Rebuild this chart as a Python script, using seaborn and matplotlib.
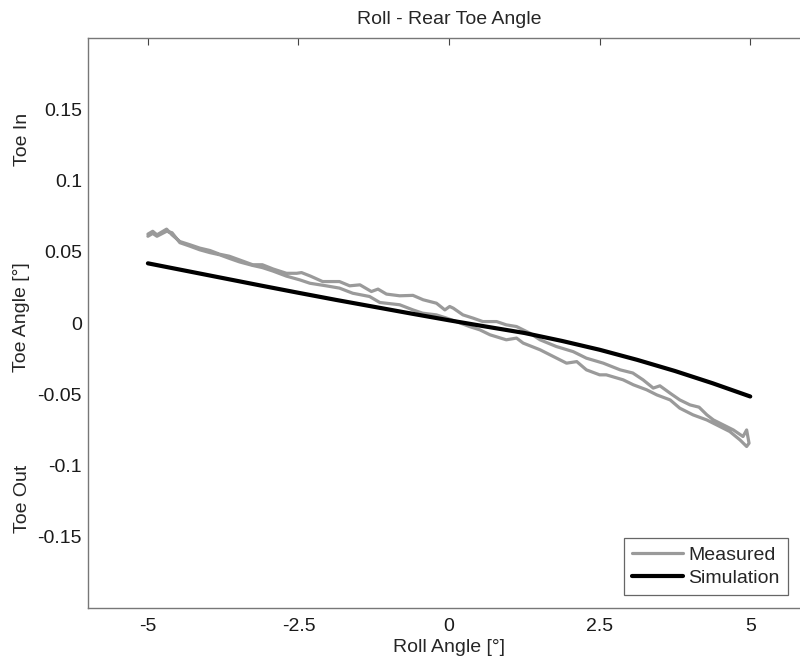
import numpy as np
import pandas as pd
import matplotlib
matplotlib.use("Agg")
import matplotlib.pyplot as plt
import seaborn as sns

# Simulated toe angle vs roll angle
sim_x = [-5.0, -4.375, -3.75, -3.125, -2.5, -1.875, -1.25, -0.625, 0.0,
         0.625, 1.25, 1.875, 2.5, 3.125, 3.75, 4.375, 5.0]
sim_y = [0.042, 0.0368, 0.0316, 0.0264, 0.0213, 0.0163, 0.0115, 0.0067, 0.002,
         -0.0025, -0.0069, -0.0125, -0.0187, -0.0258, -0.0336, -0.0422, -0.0515]

# Measured loop: out from -5 to 5 (upper branch), then back (lower branch)
meas_x = [-5.0, -4.92, -4.85, -4.69, -4.6, -4.47, -4.3, -4.14, -3.97, -3.81,
          -3.65, -3.48, -3.26, -3.1, -2.92, -2.7, -2.53, -2.45, -2.3, -2.1,
          -1.82, -1.65, -1.48, -1.29, -1.18, -1.04, -0.82, -0.6, -0.43, -0.21,
          -0.07, 0.01, 0.07, 0.23, 0.4, 0.56, 0.79, 0.95, 1.12, 1.34,
          1.51, 1.78, 2.06, 2.28, 2.56, 2.84, 3.05, 3.22, 3.39, 3.5,
          3.67, 3.83, 4.0, 4.15, 4.28, 4.39, 4.55, 4.72, 4.88, 4.94, 4.98,
          4.94, 4.83, 4.66, 4.44, 4.28, 4.05, 3.83, 3.67, 3.45, 3.28,
          3.06, 2.89, 2.61, 2.5, 2.28, 2.12, 1.95, 1.73, 1.51, 1.23,
          1.12, 0.95, 0.68, 0.51, 0.34, 0.12, -0.04, -0.21, -0.44, -0.6,
          -0.82, -1.15, -1.32, -1.6, -1.82, -2.04, -2.31, -2.48, -2.7, -2.92,
          -3.1, -3.26, -3.48, -3.65, -3.81, -3.97, -4.14, -4.3, -4.47, -4.6,
          -4.69, -4.85, -4.92, -5.0]
meas_y = [0.0625, 0.0645, 0.062, 0.066, 0.062, 0.0573, 0.055, 0.0527, 0.051, 0.0484,
          0.047, 0.0444, 0.041, 0.041, 0.038, 0.035, 0.035, 0.0355, 0.033, 0.0292,
          0.0292, 0.0262, 0.0269, 0.0222, 0.0239, 0.0204, 0.0192, 0.0195, 0.0164, 0.014,
          0.0093, 0.0117, 0.0105, 0.0058, 0.0035, 0.0011, 0.0011, -0.0012, -0.0024, -0.007,
          -0.0117, -0.0164, -0.02, -0.0246, -0.0281, -0.0328, -0.035, -0.0398, -0.0456, -0.044,
          -0.0492, -0.0539, -0.0574, -0.059, -0.0644, -0.068, -0.0714, -0.075, -0.0796, -0.075, -0.0843,
          -0.0866, -0.082, -0.0761, -0.0714, -0.068, -0.0644, -0.0597, -0.0539, -0.0504, -0.0468,
          -0.0433, -0.0398, -0.0363, -0.0363, -0.0328, -0.027, -0.0281, -0.0234, -0.0187, -0.014,
          -0.0105, -0.0117, -0.0082, -0.0047, -0.0024, 0.0011, 0.0035, 0.0058, 0.007, 0.0093,
          0.0129, 0.0145, 0.0187, 0.021, 0.0246, 0.0262, 0.028, 0.0304, 0.033, 0.0365,
          0.039, 0.0405, 0.043, 0.0455, 0.048, 0.0495, 0.0515, 0.054, 0.0565, 0.0635,
          0.0645, 0.061, 0.063, 0.061]

x_ticks = [-5, -2.5, 0, 2.5, 5]
x_tick_labels = ['-5', '-2.5', '0', '2.5', '5']
y_ticks = [-0.15, -0.1, -0.05, 0, 0.05, 0.1, 0.15]
y_tick_labels = ['-0.15', '-0.1', '-0.05', '0', '0.05', '0.1', '0.15']

sns.set_style("white")
plt.rcParams['font.family'] = ['Liberation Sans', 'DejaVu Sans']

fig = plt.figure(figsize=(8, 6.59), dpi=100)
ax = fig.add_axes([0.1096, 0.0774, 0.9035, 0.8645])

medido = pd.DataFrame({'x': meas_x, 'y': meas_y})
simulado = pd.DataFrame({'x': sim_x, 'y': sim_y})

sns.lineplot(data=medido, x='x', y='y', sort=False, estimator=None,
             color='#9a9a9a', linewidth=2.3, label='Measured', ax=ax)
sns.lineplot(data=simulado, x='x', y='y', sort=False, estimator=None,
             color='black', linewidth=3, label='Simulation', ax=ax)

ax.set_xlim(-6, 6)
ax.set_ylim(-0.2, 0.2)
ax.set_xticks(x_ticks)
ax.set_xticklabels(x_tick_labels)
ax.set_yticks(y_ticks)
ax.set_yticklabels(y_tick_labels)

ax.tick_params(direction='in', length=5, width=0.8, color='#444444',
               top=True, right=True, labelsize=14, labelcolor='#1a1a1a')
ax.tick_params(axis='x', pad=7)
ax.tick_params(axis='y', pad=4)
for s in ax.spines.values():
    s.set_color('#777777')
    s.set_linewidth(1.0)

ax.set_title('Roll - Rear Toe Angle', fontsize=14, pad=10)
ax.set_xlabel('Roll Angle [°]', fontsize=14, labelpad=3)
ax.set_ylabel('Toe Angle [°]', fontsize=14)
ax.yaxis.set_label_coords(-0.08, 0.51)

ax.text(-0.0895, 0.1287, 'Toe In', rotation=90, ha='center', va='center',
        fontsize=14, transform=ax.get_yaxis_transform())
ax.text(-0.0895, -0.1236, 'Toe Out', rotation=90, ha='center', va='center',
        fontsize=14, transform=ax.get_yaxis_transform())

leg = ax.legend(loc='lower right', bbox_to_anchor=(0.9685, 0.0228), borderaxespad=0,
                fontsize=14, frameon=True, fancybox=False, framealpha=1,
                handlelength=2.6, handletextpad=0.3, labelspacing=0.3,
                borderpad=0.4)
leg.get_frame().set_edgecolor('#666666')
leg.get_frame().set_linewidth(0.9)

fig.savefig('out.png', dpi=100)
